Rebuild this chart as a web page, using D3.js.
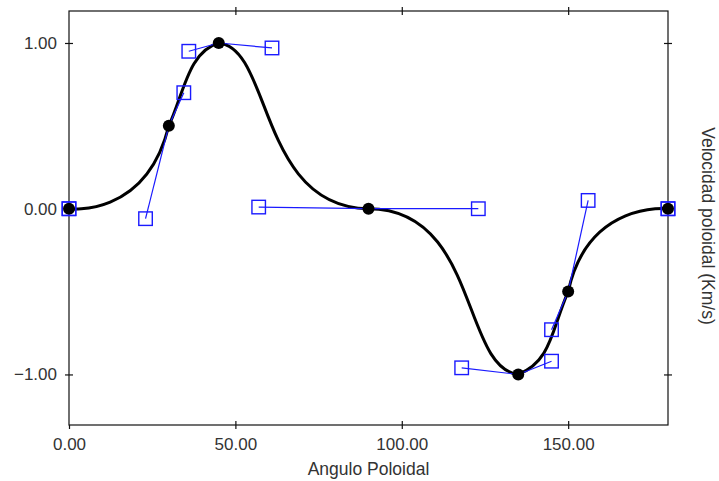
<!DOCTYPE html>
<html><head><meta charset="utf-8">
<script src="https://cdn.jsdelivr.net/npm/d3@7"></script>
<style>body{margin:0;background:#fff}svg{display:block}</style>
</head><body>
<script>
// Anchor points of the spline
const anchorX = [0, 30, 45, 90, 135, 150, 180];
const anchorY = [0, 0.5, 1, 0, -1, -0.5, 0];
// Control handles: incoming (before) and outgoing (after) for each anchor
const handleInX = [0, 23, 36, 57, 118, 145, 180];
const handleInY = [0, -0.06, 0.95, 0.01, -0.96, -0.73, 0];
const handleOutX = [0, 34.5, 61, 123, 145, 156, 180];
const handleOutY = [0, 0.7, 0.97, 0, -0.92, 0.05, 0];
const xTicks = [0, 50, 100, 150];
const yTicks = [-1, 0, 1];
const xLabel = "Angulo Poloidal";
const yLabel = "Velocidad poloidal (Km/s)";

const W = 719, H = 481;
const m = {l: 69, t: 11, r: 51, b: 56};
const svg = d3.select("body").append("svg").attr("width", W).attr("height", H);
const x = d3.scaleLinear().domain([0, 180]).range([m.l, W - m.r]);
const y = d3.scaleLinear().domain([-1.305, 1.193]).range([H - m.b, m.t]);

const font = "'Liberation Sans', Arial, sans-serif";
const fs = 17;
const fsTitle = 17.5;
const fmt = d3.format(".2f");

// frame
svg.append("rect").attr("x", x(0)).attr("y", m.t).attr("width", x(180) - x(0)).attr("height", H - m.b - m.t)
  .attr("fill", "none").attr("stroke", "#111").attr("stroke-width", 1.2);

function styleAxis(g) {
  g.select(".domain").remove();
  g.selectAll("line").attr("stroke", "#111").attr("stroke-width", 1.2);
  g.selectAll("text").attr("font-family", font).attr("font-size", fs).attr("fill", "#333");
}
// bottom axis with labels
svg.append("g").attr("transform", `translate(0,${H - m.b})`)
  .call(d3.axisBottom(x).tickValues(xTicks).tickFormat(fmt).tickSize(4).tickPadding(9))
  .call(styleAxis);
svg.append("g").attr("transform", `translate(0,${H - m.b})`)
  .call(d3.axisTop(x).tickValues(xTicks.filter(d => d > 0)).tickSize(4).tickFormat(""))
  .call(styleAxis);
// top axis crossing ticks
svg.append("g").attr("transform", `translate(0,${m.t})`)
  .call(d3.axisTop(x).tickValues(xTicks.filter(d => d > 0)).tickSize(4).tickFormat(""))
  .call(styleAxis);
svg.append("g").attr("transform", `translate(0,${m.t})`)
  .call(d3.axisBottom(x).tickValues(xTicks.filter(d => d > 0)).tickSize(4).tickFormat(""))
  .call(styleAxis);
// left axis
svg.append("g").attr("transform", `translate(${x(0)},0)`)
  .call(d3.axisLeft(y).tickValues(yTicks).tickFormat(fmt).tickSize(4).tickPadding(8))
  .call(styleAxis);
svg.append("g").attr("transform", `translate(${x(0)},0)`)
  .call(d3.axisRight(y).tickValues(yTicks).tickFormat("").tickSize(4))
  .call(styleAxis);
// right axis
svg.append("g").attr("transform", `translate(${x(180)},0)`)
  .call(d3.axisRight(y).tickValues(yTicks).tickFormat("").tickSize(4))
  .call(styleAxis);
svg.append("g").attr("transform", `translate(${x(180)},0)`)
  .call(d3.axisLeft(y).tickValues(yTicks).tickFormat("").tickSize(4))
  .call(styleAxis);

// axis titles
svg.append("text").attr("x", (x(0) + x(180)) / 2).attr("y", 475).attr("text-anchor", "middle")
  .attr("font-family", font).attr("font-size", fsTitle).attr("fill", "#333").text(xLabel);
svg.append("text").attr("transform", `translate(702,${(m.t + H - m.b) / 2 + 8}) rotate(90)`)
  .attr("text-anchor", "middle").attr("font-family", font).attr("font-size", fsTitle).attr("fill", "#333").text(yLabel);

// Bezier curve
const p = d3.path();
p.moveTo(x(anchorX[0]), y(anchorY[0]));
for (let i = 1; i < anchorX.length; i++) {
  p.bezierCurveTo(x(handleOutX[i - 1]), y(handleOutY[i - 1]), x(handleInX[i]), y(handleInY[i]), x(anchorX[i]), y(anchorY[i]));
}
svg.append("path").attr("d", p.toString()).attr("fill", "none").attr("stroke", "#000").attr("stroke-width", 3);

// handle lines
const idx = d3.range(anchorX.length);
const hl = svg.append("g").attr("stroke", "#1a1aff").attr("stroke-width", 1.2);
idx.forEach(i => {
  hl.append("line").attr("x1", x(handleInX[i])).attr("y1", y(handleInY[i])).attr("x2", x(anchorX[i])).attr("y2", y(anchorY[i]));
  hl.append("line").attr("x1", x(anchorX[i])).attr("y1", y(anchorY[i])).attr("x2", x(handleOutX[i])).attr("y2", y(handleOutY[i]));
});

// anchors
svg.append("g").selectAll("circle").data(idx).join("circle")
  .attr("cx", i => x(anchorX[i])).attr("cy", i => y(anchorY[i])).attr("r", 6).attr("fill", "#000");

// handle squares
const hs = 13.5;
const handles = idx.flatMap(i => [[handleInX[i], handleInY[i]], [handleOutX[i], handleOutY[i]]]);
svg.append("g").selectAll("rect").data(handles).join("rect")
  .attr("x", d => x(d[0]) - hs / 2).attr("y", d => y(d[1]) - hs / 2)
  .attr("width", hs).attr("height", hs).attr("fill", "none").attr("stroke", "#1a1aff").attr("stroke-width", 1.4);
</script>
</body></html>
